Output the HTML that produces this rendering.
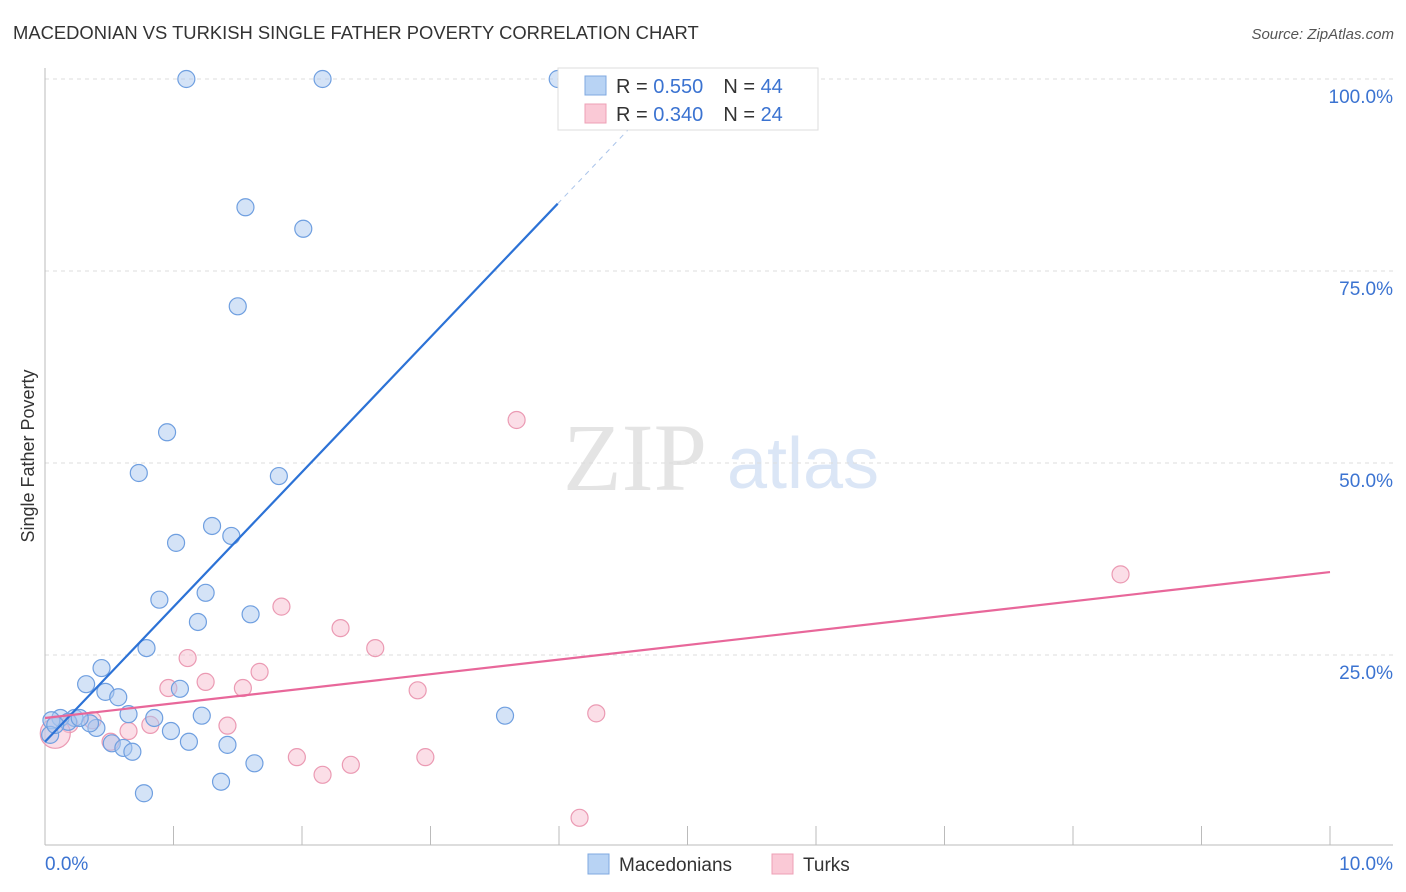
<!DOCTYPE html>
<html><head><meta charset="utf-8">
<style>
body{margin:0;background:#fff;font-family:"Liberation Sans",sans-serif;}
#wrap{position:relative;width:1406px;height:892px;overflow:hidden;}
</style></head>
<body><div id="wrap">
<svg id="chart" width="1406" height="892" xmlns="http://www.w3.org/2000/svg">
<text x="13" y="39" font-size="18.4" fill="#333">MACEDONIAN VS TURKISH SINGLE FATHER POVERTY CORRELATION CHART</text>
<text x="1394" y="39" font-size="15" fill="#555" text-anchor="end" font-style="italic">Source: ZipAtlas.com</text>
<text x="34" y="456" font-size="18" fill="#333" text-anchor="middle" transform="rotate(-90 34 456)">Single Father Poverty</text>
<g>
<text x="635" y="490" font-size="96" fill="#e4e4e4" text-anchor="middle" font-family="Liberation Serif,serif">ZIP</text>
<text x="803" y="488" font-size="72" fill="#dbe6f6" text-anchor="middle">atlas</text>
</g>
<g id="grid"></g><g id="axes"></g><g id="marks"></g>
<g>
<rect x="558" y="68" width="260" height="62" fill="#fff" stroke="#ddd"/>
<rect x="585" y="76" width="21" height="19" fill="#b8d3f4" stroke="#7fa8e0"/>
<rect x="585" y="104" width="21" height="19" fill="#fac9d6" stroke="#eea0b6"/>
<text x="616" y="93" font-size="20" fill="#333">R = <tspan fill="#3b73d1">0.550</tspan><tspan dx="20" fill="#333">N = </tspan><tspan fill="#3b73d1">44</tspan></text>
<text x="616" y="121" font-size="20" fill="#333">R = <tspan fill="#3b73d1">0.340</tspan><tspan dx="20" fill="#333">N = </tspan><tspan fill="#3b73d1">24</tspan></text>
</g>
<g>
<rect x="588" y="854" width="21" height="20" fill="#b8d3f4" stroke="#7fa8e0"/>
<text x="619" y="871" font-size="19" fill="#333">Macedonians</text>
<rect x="772" y="854" width="21" height="20" fill="#fac9d6" stroke="#eea0b6"/>
<text x="803" y="871" font-size="19" fill="#333">Turks</text>
</g>
</svg>
<script>
const blueX=[1.10,2.16,3.99,1.56,2.01,1.50,0.95,0.73,1.82,1.30,1.45,1.02,0.89,1.25,1.60,1.19,0.79,0.44,0.32,0.47,0.57,1.05,0.65,0.85,1.22,0.98,0.40,0.35,0.23,0.12,0.05,0.18,0.04,0.52,0.61,0.68,1.12,1.42,1.63,1.37,0.77,3.58,0.27,0.08];
const blueY=[100,100,100,83.3,80.5,70.4,54.0,48.7,48.3,41.8,40.5,39.6,32.2,33.1,30.3,29.3,25.9,23.3,21.2,20.2,19.5,20.6,17.3,16.8,17.1,15.1,15.5,16.1,16.8,16.8,16.5,16.3,14.6,13.5,12.9,12.4,13.7,13.3,10.9,8.5,7.0,17.1,16.8,15.9];
const pinkX=[3.67,8.37,1.84,2.30,2.57,1.11,0.96,1.25,1.54,1.67,2.90,4.29,1.42,0.82,0.65,0.37,0.19,0.51,1.96,2.16,2.38,2.96,4.16,0.08];
const pinkY=[55.6,35.5,31.3,28.5,25.9,24.6,20.7,21.5,20.7,22.8,20.4,17.4,15.8,15.9,15.1,16.5,16.0,13.7,11.7,9.4,10.7,11.7,3.8,14.8];
const blueTrend=[13.7,17.56];
const pinkTrend=[16.8,1.9];
const yTicks=[25,50,75,100];
const xTickLabels=["0.0%","10.0%"];
const NS="http://www.w3.org/2000/svg";
const X=v=>45+v*128.5, Y=v=>847-v*7.68;
function mk(tag,a,parent){const e=document.createElementNS(NS,tag);for(const k in a)e.setAttribute(k,a[k]);document.getElementById(parent).appendChild(e);return e;}
yTicks.forEach(t=>{
 const l=mk('line',{x1:45,x2:1393,y1:Y(t),y2:Y(t),stroke:'#ddd','stroke-dasharray':'4,4'},'grid');
 
 
 const tx=mk('text',{x:1393,y:Y(t)+24,'font-size':19,fill:'#3b73d1','text-anchor':'end'},'grid');
 tx.textContent=t.toFixed(1)+'%';
 
 
});
mk('line',{x1:45,x2:45,y1:68,y2:845,stroke:'#bbb'},'axes');
mk('line',{x1:45,x2:1393,y1:845,y2:845,stroke:'#bbb'},'axes');
for(let i=1;i<=10;i++){const t=mk('line',{x1:X(i),x2:X(i),y1:826,y2:845,stroke:'#bbb'},'axes');
 
 }
const xl0=mk('text',{x:45,y:870,'font-size':19,fill:'#3b73d1'},'axes');xl0.textContent=xTickLabels[0];


const xl1=mk('text',{x:1393,y:870,'font-size':19,fill:'#3b73d1','text-anchor':'end'},'axes');xl1.textContent=xTickLabels[1];


pinkX.forEach((x,i)=>{const c=mk('circle',{cx:X(x),cy:Y(pinkY[i]),r:i==pinkX.length-1?15:8.5,fill:'rgba(248,190,208,0.5)',stroke:'#eb9ab3','stroke-width':1.2},'marks');
 
 });
blueX.forEach((x,i)=>{const c=mk('circle',{cx:X(x),cy:Y(blueY[i]),r:8.5,fill:'rgba(170,200,240,0.5)',stroke:'#6f9fe0','stroke-width':1.2},'marks');
 
 });
const bEnd=3.99, bTop=(100-blueTrend[0])/blueTrend[1];
const bl=mk('line',{x1:X(0),y1:Y(blueTrend[0]),x2:X(bEnd),y2:Y(blueTrend[0]+blueTrend[1]*bEnd),stroke:'#2c72d6','stroke-width':2.2},'marks');


const bd=mk('line',{x1:X(bEnd),y1:Y(blueTrend[0]+blueTrend[1]*bEnd),x2:X(bTop),y2:Y(100),stroke:'#aac4ea','stroke-width':1,'stroke-dasharray':'5,5'},'marks');


const pl=mk('line',{x1:X(0),y1:Y(pinkTrend[0]),x2:X(10),y2:Y(pinkTrend[0]+pinkTrend[1]*10),stroke:'#e8679a','stroke-width':2.2},'marks');


</script>
</div></body></html>
